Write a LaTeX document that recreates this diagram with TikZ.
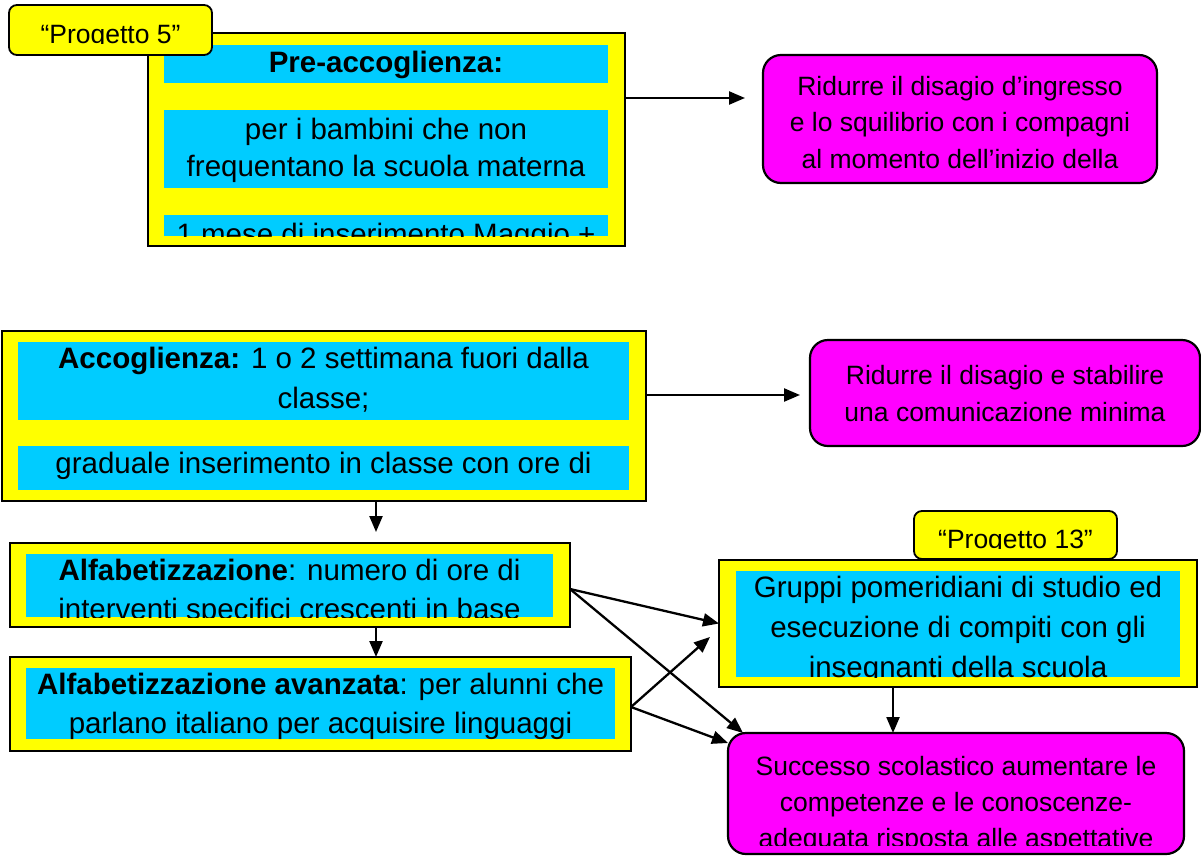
\documentclass[tikz,border=0pt]{standalone}
\usepackage{fontspec}
\setmainfont{Liberation Sans}
\usetikzlibrary{arrows.meta}
\definecolor{yel}{HTML}{FFFF00}
\definecolor{cya}{HTML}{00CCFF}
\definecolor{mag}{HTML}{FF00FF}
\begin{document}
\begin{tikzpicture}[x=1pt,y=-1pt,
  outerbox/.style={draw=black, fill=yel, line width=2.2pt, inner sep=0pt, outer sep=0pt, anchor=north west},
  strip/.style={fill=cya, inner sep=0pt, outer sep=0pt, anchor=north west},
  goal/.style={draw=black, fill=mag, line width=2.2pt, rounded corners=18pt, inner sep=0pt, outer sep=0pt, anchor=north west},
  tag/.style={draw=black, fill=yel, line width=1.8pt, rounded corners=8pt, inner sep=0pt, outer sep=0pt, anchor=north west},
  bluetxt/.style={font=\fontsize{29.5}{37}\selectfont, align=center, anchor=base, inner sep=0pt},
  goaltxt/.style={font=\fontsize{26.5}{36.5}\selectfont, align=center, anchor=base, inner sep=0pt},
  arr/.style={line width=2.3pt, -{Triangle[length=16pt,width=13pt]}}
]
\useasboundingbox (0,0) rectangle (1201,857);
\clip (0,0) rectangle (1201,857);

% ---------- top block ----------
\node[outerbox, minimum width=477pt, minimum height=213pt] (b1) at (148,33) {};
\node[strip, minimum width=444pt, minimum height=38pt] (s11) at (164,45) {};
\node[strip, minimum width=444pt, minimum height=78pt] (s12) at (164,110) {};
\node[strip, minimum width=444pt, minimum height=21pt] (s13) at (164,215) {};
\node[bluetxt] (t11) at (386,72) {\textbf{Pre-accoglienza:}};
\node[bluetxt, font=\fontsize{29.5}{36.5}\selectfont] (t12) at (386,176) {per i bambini che non\\frequentano la scuola materna};
\begin{scope}
  \clip (s13.north west) rectangle (s13.south east);
  \node[bluetxt] (t13) at (386,244) {1 mese di inserimento Maggio +};
\end{scope}
\node[tag, minimum width=203pt, minimum height=50pt] (tag5) at (9,5) {};
\begin{scope}
  \clip (9,5) rectangle (212,43.5);
  \node[goaltxt] (tt5) at (110.5,43.5) {“Progetto 5”};
\end{scope}

\node[goal, minimum width=394pt, minimum height=128pt] (g1) at (763,55) {};
\node[goaltxt] (tg1) at (960,168) {Ridurre il disagio d’ingresso\\e lo squilibrio con i compagni\\al momento dell’inizio della};
\coordinate (a1end) at (745,98);
\draw[arr] (b1.east |- a1end) -- (a1end);

% ---------- accoglienza ----------
\node[outerbox, minimum width=644pt, minimum height=170pt] (b2) at (2,331) {};
\node[strip, minimum width=611pt, minimum height=78pt] (s21) at (18,342) {};
\node[strip, minimum width=611pt, minimum height=44pt] (s22) at (18,446) {};
\node[bluetxt, font=\fontsize{29.5}{40}\selectfont] (t21) at (323.5,408.3) {\textbf{Accoglienza:} 1 o 2 settimana fuori dalla\\classe;};
\node[bluetxt] (t22) at (323.5,473.3) {graduale inserimento in classe con ore di};

\node[goal, minimum width=390pt, minimum height=106pt] (g2) at (810,340) {};
\node[goaltxt, font=\fontsize{26.5}{36.5}\selectfont] (tg2) at (1005,421) {Ridurre il disagio e stabilire\\una comunicazione minima};
\coordinate (a2end) at (800,395);
\draw[arr] (b2.east |- a2end) -- (a2end);

\coordinate (a3end) at (376,532);
\draw[arr] (b2.south -| a3end) -- (a3end);

% ---------- alfabetizzazione ----------
\node[outerbox, minimum width=560pt, minimum height=84pt] (b3) at (10,543) {};
\node[strip, minimum width=527pt, minimum height=63pt] (s31) at (26,554) {};
\begin{scope}
  \clip (s31.north west) rectangle (s31.south east);
  \node[bluetxt, font=\fontsize{29.5}{39}\selectfont] (t31) at (289.5,619) {\textbf{Alfabetizzazione}: numero di ore di\\interventi specifici crescenti in base};
\end{scope}

\node[outerbox, minimum width=621pt, minimum height=94pt] (b4) at (10,657) {};
\node[strip, minimum width=589pt, minimum height=71pt] (s41) at (26,668) {};
\begin{scope}
  \clip (s41.north west) rectangle (s41.south east);
  \node[bluetxt, font=\fontsize{29.5}{39}\selectfont] (t41) at (320.5,733.3) {\textbf{Alfabetizzazione avanzata}: per alunni che\\parlano italiano per acquisire linguaggi};
\end{scope}

\draw[arr] ([xshift=86pt]b3.south) -- ([xshift=55.5pt]b4.north);

% ---------- gruppi ----------
\node[outerbox, minimum width=478pt, minimum height=127pt] (b5) at (719,560) {};
\node[strip, minimum width=444pt, minimum height=106pt] (s51) at (736,571) {};
\begin{scope}
  \clip (s51.north west) rectangle (s51.south east);
  \node[bluetxt, font=\fontsize{29.5}{40}\selectfont] (t51) at (958,677.7) {Gruppi pomeridiani di studio ed\\esecuzione di compiti con gli\\insegnanti della scuola};
\end{scope}
\node[tag, minimum width=203pt, minimum height=48pt] (tag13) at (914,511) {};
\begin{scope}
  \clip (914,511) rectangle (1117,548.3);
  \node[goaltxt] (tt13) at (1015.5,548.3) {“Progetto 13”};
\end{scope}

\node[goal, minimum width=456pt, minimum height=121pt] (g3) at (728,733) {};
\begin{scope}
  \clip (728,733) rectangle (1184,845);
  \node[goaltxt, font=\fontsize{26.5}{36}\selectfont] (tg3) at (956,847) {Successo scolastico aumentare le\\competenze e le conoscenze-\\adequata risposta alle aspettative};
\end{scope}

\draw[arr] ([xshift=-65pt]b5.south) -- ([xshift=-65pt]b5.south |- g3.north);

% ---------- cross arrows ----------
\coordinate (c1) at (570,589);
\coordinate (c2) at (631,707);
\coordinate (e3) at (710,637);
\draw[arr] (c1) -- (b5.west);
\draw[arr] (c1) -- ([xshift=15pt]g3.north west);
\draw[arr] (c2) -- (e3);
\draw[arr] (c2) -- ([yshift=-10pt]g3.north west);
\end{tikzpicture}
\end{document}
